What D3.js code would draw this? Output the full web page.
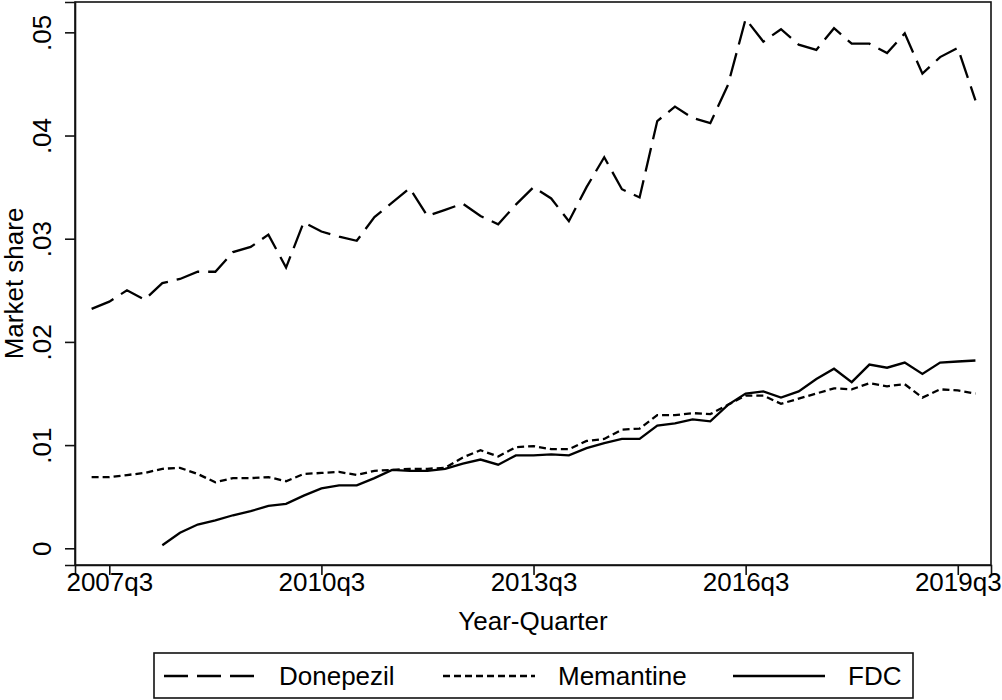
<!DOCTYPE html>
<html>
<head>
<meta charset="utf-8">
<script src="https://cdn.jsdelivr.net/npm/d3@7"></script>
<style>
	body { margin: 0; background: #fff; }
	svg { display: block; font-family: "Liberation Sans", Arial, sans-serif; }
	.tick-label, .axis-title, .legend-label { font-size: 26px; fill: #000; }
</style>
</head>
<body>
<svg id="chart"></svg>
<script>
const quarters = [
	"2007q2", "2007q3", "2007q4", "2008q1", "2008q2", "2008q3", "2008q4",
	"2009q1", "2009q2", "2009q3", "2009q4", "2010q1", "2010q2", "2010q3",
	"2010q4", "2011q1", "2011q2", "2011q3", "2011q4", "2012q1", "2012q2",
	"2012q3", "2012q4", "2013q1", "2013q2", "2013q3", "2013q4", "2014q1",
	"2014q2", "2014q3", "2014q4", "2015q1", "2015q2", "2015q3", "2015q4",
	"2016q1", "2016q2", "2016q3", "2016q4", "2017q1", "2017q2", "2017q3",
	"2017q4", "2018q1", "2018q2", "2018q3", "2018q4", "2019q1", "2019q2",
	"2019q3", "2019q4"
];

const donepezil = [
	0.0232, 0.0239, 0.0250, 0.0241, 0.0257, 0.0261, 0.0268, 0.0268, 0.0287,
	0.0292, 0.0304, 0.0272, 0.0316, 0.0307, 0.0302, 0.0298, 0.0321, 0.0335,
	0.0349, 0.0322, 0.0328, 0.0334, 0.0322, 0.0314, 0.0333, 0.0350, 0.0339,
	0.0317, 0.0350, 0.0379, 0.0348, 0.0340, 0.0414, 0.0428, 0.0417, 0.0412,
	0.0449, 0.0513, 0.0491, 0.0503, 0.0488, 0.0483, 0.0504, 0.0489, 0.0489,
	0.0480, 0.0499, 0.0460, 0.0476, 0.0485, 0.0434
];

const memantine = [
	0.0069, 0.0069, 0.0071, 0.0073, 0.0077, 0.0078, 0.0072, 0.0064, 0.0068,
	0.0068, 0.0069, 0.0065, 0.0072, 0.0073, 0.0074, 0.0071, 0.0075, 0.0076,
	0.0077, 0.0077, 0.0078, 0.0088, 0.0095, 0.0089, 0.0098, 0.0099, 0.0096,
	0.0096, 0.0104, 0.0106, 0.0115, 0.0116, 0.0129, 0.0129, 0.0131, 0.0130,
	0.0139, 0.0148, 0.0148, 0.0140, 0.0145, 0.0150, 0.0155, 0.0154, 0.0160,
	0.0157, 0.0159, 0.0146, 0.0154, 0.0153, 0.0150
];

const fdc = [
	null, null, null, null, 0.0003, 0.0015, 0.0023, 0.0027, 0.0032,
	0.0036, 0.0041, 0.0043, 0.0051, 0.0058, 0.0061, 0.0061, 0.0068, 0.0076,
	0.0075, 0.0075, 0.0077, 0.0082, 0.0086, 0.0081, 0.0090, 0.0090, 0.0091,
	0.0090, 0.0097, 0.0102, 0.0106, 0.0106, 0.0119, 0.0121, 0.0125, 0.0123,
	0.0139, 0.0150, 0.0152, 0.0146, 0.0152, 0.0164, 0.0174, 0.0161, 0.0178,
	0.0175, 0.0180, 0.0169, 0.0180, 0.0181, 0.0182
];

const xTickLabels = ["2007q3", "2010q3", "2013q3", "2016q3", "2019q3"];
const yTicks = [0, 0.01, 0.02, 0.03, 0.04, 0.05];

const series = [
	{ name: "Donepezil", values: donepezil, dash: "24,9" },
	{ name: "Memantine", values: memantine, dash: "7,4" },
	{ name: "FDC", values: fdc, dash: null }
];

const W = 1002, H = 700;
const plot = { left: 75, right: 991, top: 2, bottom: 565 };

const svg = d3.select("#chart").attr("width", W).attr("height", H);

const x = d3.scaleLinear()
	.domain([-0.94, quarters.length - 1 + 0.88])
	.range([plot.left, plot.right]);

const y = d3.scaleLinear()
	.domain([-0.00162, 0.05294])
	.range([plot.bottom, plot.top]);

const yFmt = v => (v === 0 ? "0" : d3.format(".2f")(v).replace(/^0/, ""));

// plot region frame
svg.append("rect")
	.attr("x", plot.left)
	.attr("y", plot.top)
	.attr("width", plot.right - plot.left)
	.attr("height", plot.bottom - plot.top)
	.attr("fill", "none")
	.attr("stroke", "#111")
	.attr("stroke-width", 1.6);

// y axis
const yAxis = svg.append("g")
	.attr("transform", `translate(${plot.left},0)`)
	.call(d3.axisLeft(y).tickValues(yTicks).tickSize(10).tickFormat(yFmt));
yAxis.select(".domain").attr("stroke", "#111").attr("stroke-width", 1.6);
yAxis.selectAll(".tick line").attr("stroke", "#111").attr("stroke-width", 1.6);
yAxis.selectAll(".tick text")
	.attr("class", "tick-label")
	.attr("x", null).attr("dy", null)
	.attr("text-anchor", "middle")
	.attr("transform", `translate(-24,0) rotate(-90)`)
	.style("font-size", "26px")
	.style("font-family", "Liberation Sans, Arial, sans-serif");

// x axis
const xAxis = svg.append("g")
	.attr("transform", `translate(0,${plot.bottom})`)
	.call(d3.axisBottom(x)
		.tickValues(xTickLabels.map(q => quarters.indexOf(q)))
		.tickSize(10)
		.tickFormat(i => quarters[i]));
xAxis.select(".domain").attr("stroke", "#111").attr("stroke-width", 1.6);
xAxis.selectAll(".tick line").attr("stroke", "#111").attr("stroke-width", 1.6);
xAxis.selectAll(".tick text")
	.attr("class", "tick-label")
	.attr("y", 26).attr("dy", null)
	.style("font-size", "26px")
	.style("font-family", "Liberation Sans, Arial, sans-serif");

// axis titles
svg.append("text")
	.attr("class", "axis-title")
	.attr("x", (plot.left + plot.right) / 2)
	.attr("y", 630)
	.attr("text-anchor", "middle")
	.text("Year-Quarter");

svg.append("text")
	.attr("class", "axis-title")
	.attr("transform", `translate(23,${(plot.top + plot.bottom) / 2}) rotate(-90)`)
	.attr("text-anchor", "middle")
	.text("Market share");

// lines
const line = d3.line()
	.defined(d => d != null)
	.x((d, i) => x(i))
	.y(d => y(d));

svg.selectAll(".series")
	.data(series)
	.enter()
	.append("path")
	.attr("class", "series")
	.attr("d", d => line(d.values))
	.attr("fill", "none")
	.attr("stroke", "#000")
	.attr("stroke-width", 2.3)
	.attr("stroke-dasharray", d => d.dash);

// legend
const legend = svg.append("g");
legend.append("rect")
	.attr("x", 154)
	.attr("y", 653)
	.attr("width", 759)
	.attr("height", 45)
	.attr("fill", "#fff")
	.attr("stroke", "#111")
	.attr("stroke-width", 1.6);

const legX = [164, 443, 733];
const item = legend.selectAll(".leg-item")
	.data(series)
	.enter()
	.append("g")
	.attr("class", "leg-item")
	.attr("transform", (d, i) => `translate(${legX[i]},676)`);

item.append("line")
	.attr("x1", 0).attr("x2", 92)
	.attr("y1", 0).attr("y2", 0)
	.attr("stroke", "#000")
	.attr("stroke-width", 2.3)
	.attr("stroke-dasharray", d => d.dash);

item.append("text")
	.attr("class", "legend-label")
	.attr("x", 115)
	.attr("y", 9)
	.text(d => d.name);
</script>
</body>
</html>
